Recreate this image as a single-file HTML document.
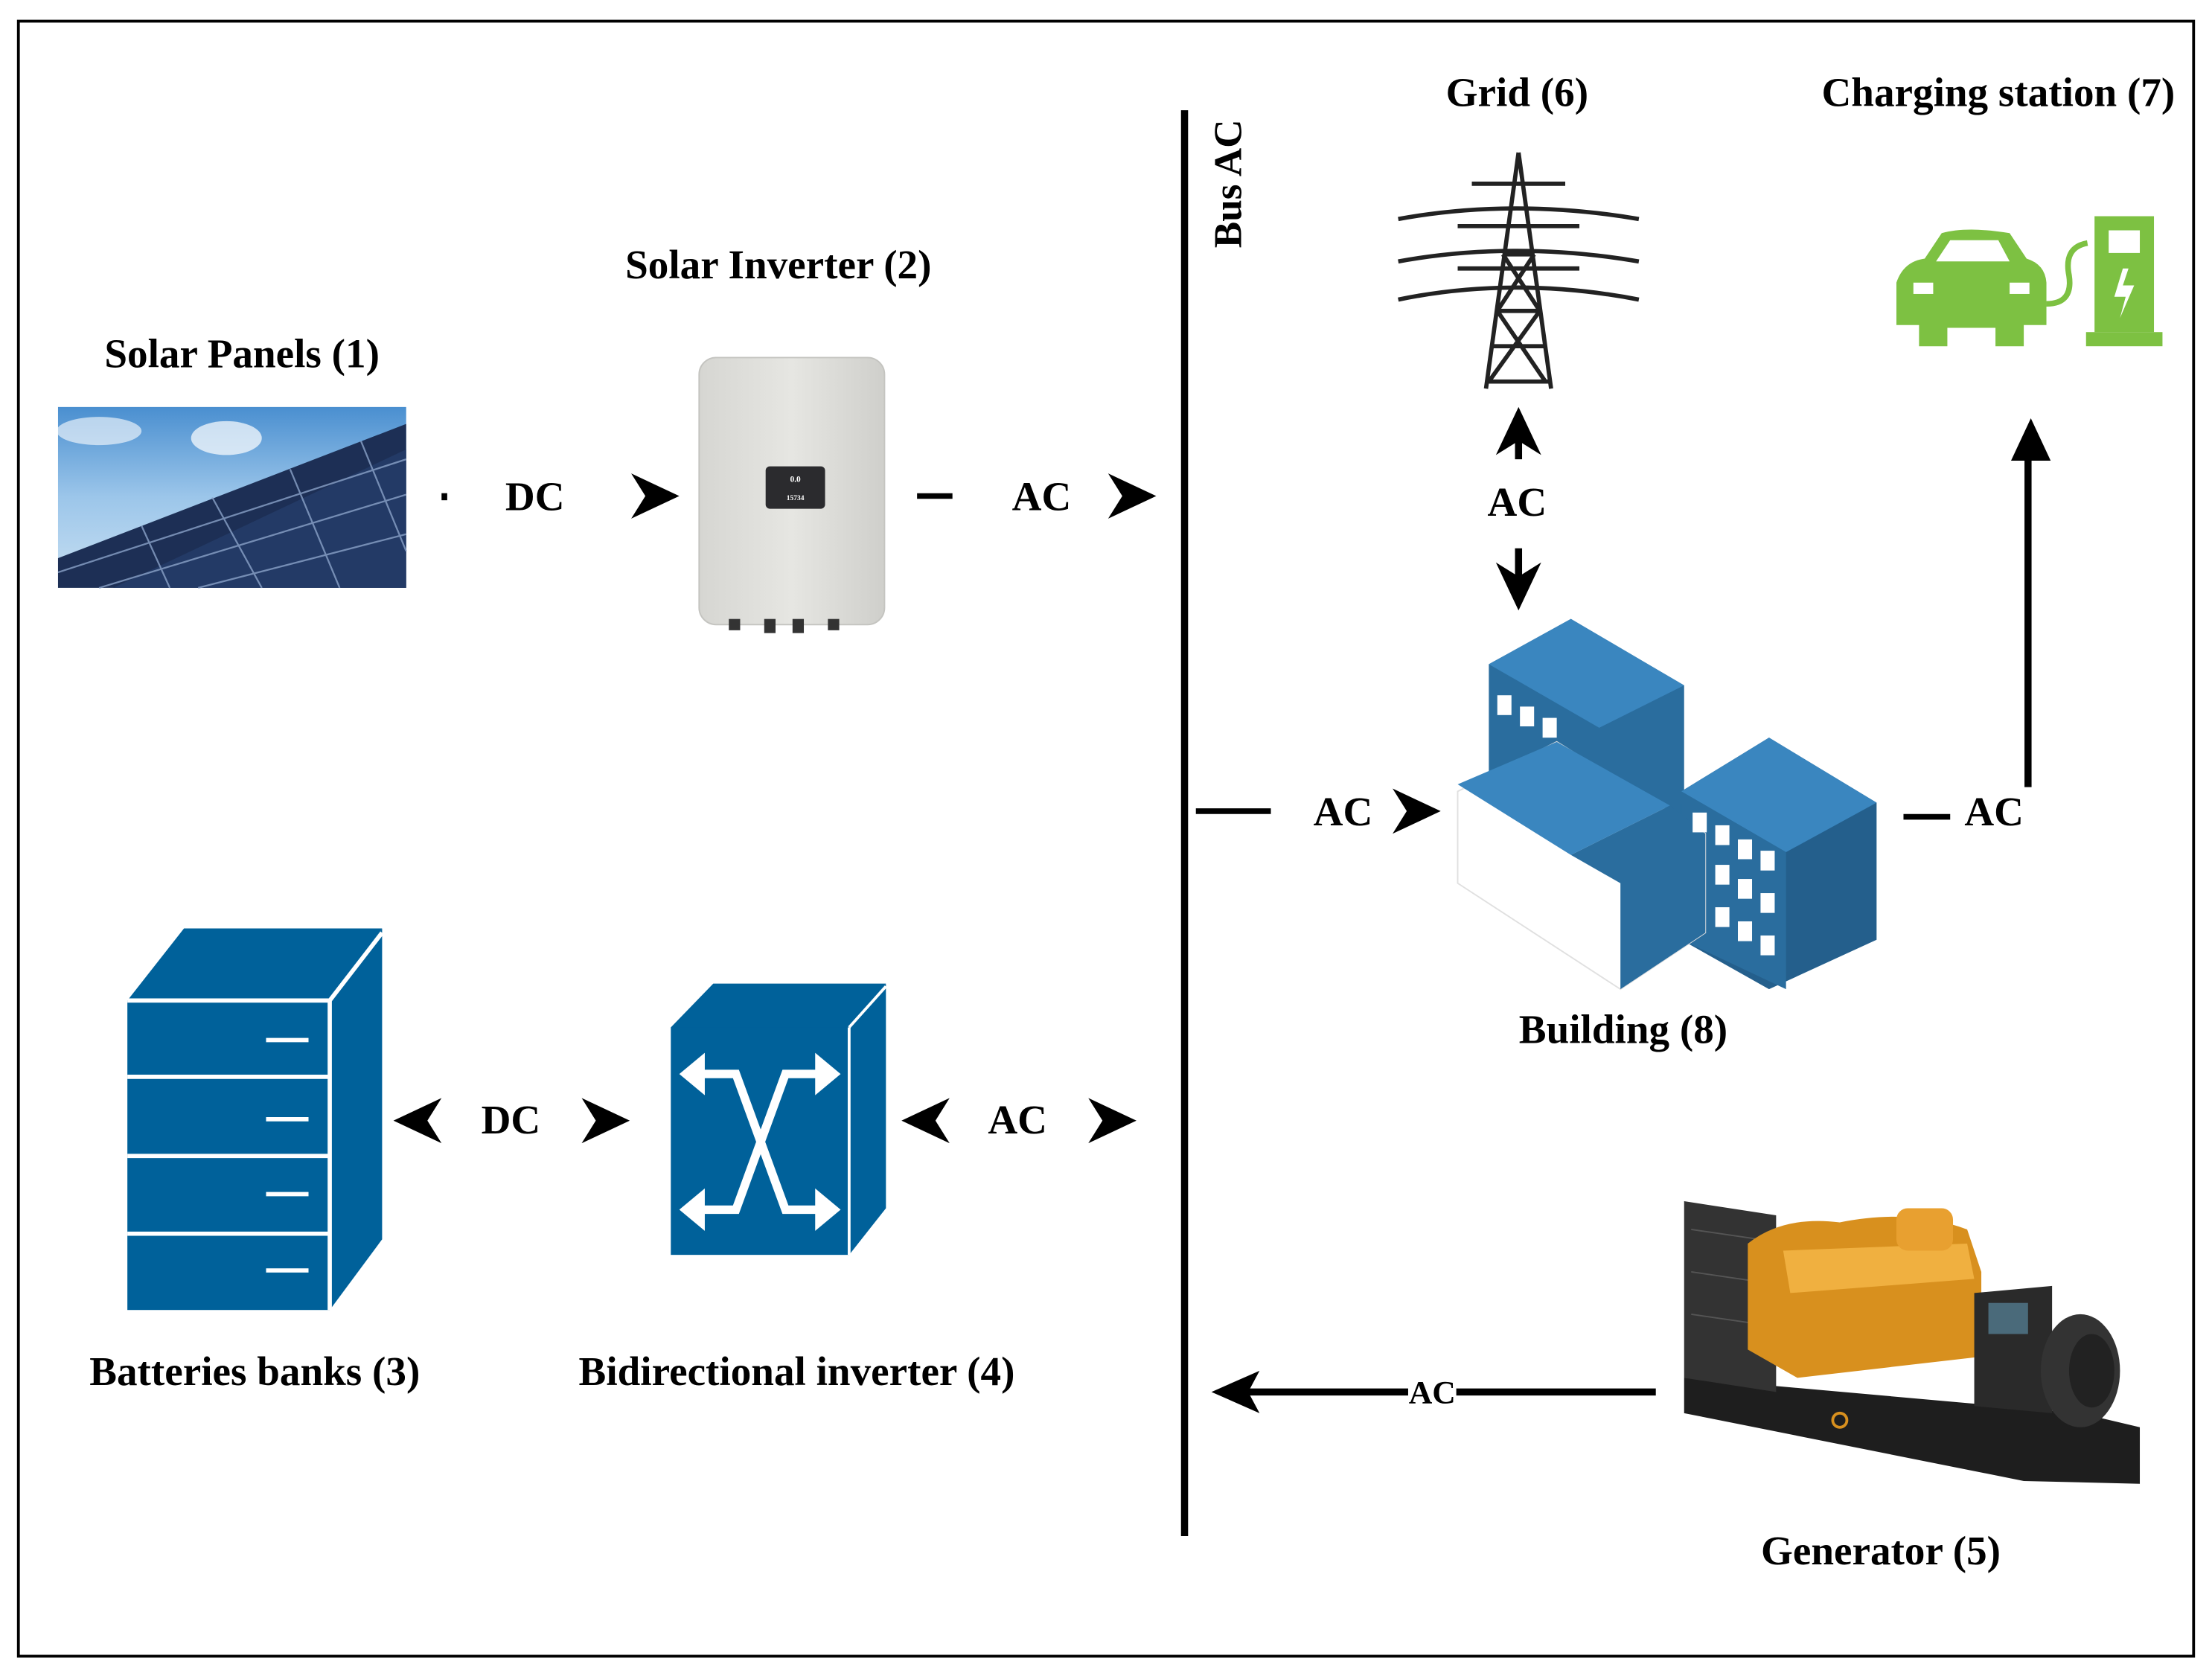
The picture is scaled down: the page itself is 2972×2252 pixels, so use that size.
<!DOCTYPE html>
<html><head><meta charset="utf-8"><style>
html,body{margin:0;padding:0;background:#fff;}
svg{display:block;}
text{font-family:"Liberation Serif",serif;font-weight:bold;fill:#000;}
</style></head><body>
<svg width="2972" height="2252" viewBox="0 0 1563 1186" preserveAspectRatio="none" xmlns="http://www.w3.org/2000/svg">
<defs>
<linearGradient id="sky" x1="0" y1="0" x2="0" y2="1"><stop offset="0" stop-color="#4a8fd0"/><stop offset="0.5" stop-color="#9cc6ea"/><stop offset="1" stop-color="#c9e0f2"/></linearGradient>
<linearGradient id="inv" x1="0" y1="0" x2="1" y2="0"><stop offset="0" stop-color="#d6d6d2"/><stop offset="0.5" stop-color="#e6e6e2"/><stop offset="1" stop-color="#cfcfcb"/></linearGradient>
<path id="chev" d="M-34,-16 L0,0 L-34,16 L-24,0 Z"/>
</defs>
<rect x="13" y="15" width="1537" height="1157" fill="none" stroke="#000" stroke-width="2"/>
<line x1="837" y1="78" x2="837" y2="1087" stroke="#000" stroke-width="5"/>
<text transform="translate(877,130) rotate(-90)" font-size="28" text-anchor="middle">Bus AC</text>
<g font-size="29">
<text x="171" y="260" text-anchor="middle">Solar Panels (1)</text>
<text x="550" y="197" text-anchor="middle">Solar Inverter (2)</text>
<text x="1072" y="75" text-anchor="middle">Grid (6)</text>
<text x="1412" y="75" text-anchor="middle">Charging station (7)</text>
<text x="1147" y="738" text-anchor="middle">Building (8)</text>
<text x="180" y="980" text-anchor="middle">Batteries banks (3)</text>
<text x="563" y="980" text-anchor="middle">Bidirectional inverter (4)</text>
<text x="1329" y="1107" text-anchor="middle">Generator (5)</text>
</g>
<rect x="41" y="288" width="246" height="128" fill="url(#sky)"/>
<polygon points="41,395 287,300 287,416 41,416" fill="#1d2f55"/>
<polygon points="80,416 287,318 287,416" fill="#233a66"/>
<g stroke="#8aa2c8" stroke-width="1.2" opacity="0.8">
<line x1="41" y1="405" x2="287" y2="325"/><line x1="70" y1="416" x2="287" y2="350"/><line x1="140" y1="416" x2="287" y2="378"/>
<line x1="100" y1="372" x2="120" y2="416"/><line x1="150" y1="352" x2="185" y2="416"/><line x1="205" y1="332" x2="240" y2="416"/><line x1="255" y1="312" x2="287" y2="390"/>
</g>
<ellipse cx="160" cy="310" rx="25" ry="12" fill="#fff" opacity="0.7"/>
<ellipse cx="70" cy="305" rx="30" ry="10" fill="#fff" opacity="0.6"/>
<rect x="494" y="253" width="131" height="189" rx="12" fill="url(#inv)" stroke="#c4c4c0"/>
<rect x="541" y="330" width="42" height="30" rx="3" fill="#2b2b2e"/>
<text x="562" y="341" font-size="6" style="fill:#fff" text-anchor="middle">0.0</text>
<text x="562" y="354" font-size="5" style="fill:#fff" text-anchor="middle">15734</text>
<g fill="#333"><rect x="515" y="438" width="8" height="8"/><rect x="540" y="438" width="8" height="10"/><rect x="560" y="438" width="8" height="10"/><rect x="585" y="438" width="8" height="8"/></g>
<rect x="312" y="349" width="4" height="5" fill="#000"/>
<text x="378" y="361" font-size="29" text-anchor="middle">DC</text>
<use href="#chev" x="480" y="351"/>
<line x1="648" y1="351" x2="673" y2="351" stroke="#000" stroke-width="4"/>
<text x="736" y="361" font-size="29" text-anchor="middle">AC</text>
<use href="#chev" x="817" y="351"/>
<g stroke="#222" stroke-width="3" fill="none">
<path d="M1073,108 L1050,275 M1073,108 L1096,275 M1058,220 L1088,220 M1055,245 L1092,245 M1052,270 L1094,270 M1058,220 L1092,270 M1088,220 L1052,270 M1062,180 L1084,180 M1062,180 L1088,220 M1084,180 L1058,220"/>
<path d="M988,155 Q1070,140 1158,155 M988,185 Q1070,170 1158,185 M988,212 Q1070,195 1158,212"/>
<path d="M1040,130 L1106,130 M1030,160 L1116,160 M1030,190 L1116,190"/>
</g>
<g fill="#7dc142">
<path d="M1340,230 L1340,200 Q1345,185 1360,183 L1372,165 Q1390,160 1420,165 L1432,183 Q1445,187 1446,200 L1446,230 L1430,230 L1430,245 L1410,245 L1410,232 L1376,232 L1376,245 L1356,245 L1356,230 Z"/>
<rect x="1480" y="153" width="42" height="82"/><rect x="1474" y="235" width="54" height="10"/>
</g>
<g fill="#fff"><rect x="1490" y="163" width="22" height="16"/><path d="M1378,170 L1412,170 L1420,185 L1368,185 Z"/><rect x="1352" y="200" width="14" height="8"/><rect x="1420" y="200" width="14" height="8"/></g>
<path d="M1500,190 L1494,210 L1502,210 L1498,225 L1508,202 L1500,202 L1504,190 Z" fill="#fff"/>
<path d="M1446,215 Q1465,215 1462,195 Q1458,175 1475,172" stroke="#7dc142" stroke-width="4" fill="none"/>
<line x1="1073" y1="300" x2="1073" y2="325" stroke="#000" stroke-width="5"/>
<use href="#chev" transform="translate(1073,288) rotate(-90)"/>
<text x="1072" y="365" font-size="29" text-anchor="middle">AC</text>
<line x1="1073" y1="388" x2="1073" y2="410" stroke="#000" stroke-width="5"/>
<use href="#chev" transform="translate(1073,432) rotate(90)"/>
<g>
<polygon points="1052,470 1110,438 1190,485 1190,590 1130,620 1052,575" fill="#2a6d9e"/>
<polygon points="1052,470 1110,438 1190,485 1130,515" fill="#3a86bf"/>
<polygon points="1188,560 1250,522 1326,568 1326,665 1250,700 1188,665" fill="#245f8c"/>
<polygon points="1188,560 1250,522 1326,568 1262,603" fill="#3a86bf"/>
<polygon points="1188,560 1262,603 1262,700 1188,665" fill="#2a6d9e"/>
<polygon points="1030,560 1100,525 1205,590 1205,660 1145,700 1030,625" fill="#fff" stroke="#e0e0e0"/>
<polygon points="1030,555 1100,525 1180,570 1110,605" fill="#3a86bf"/>
<polygon points="1110,605 1180,570 1205,590 1205,660 1145,700 1145,625" fill="#2a6d9e"/>
<g fill="#fff">
<rect x="1058" y="492" width="10" height="14"/><rect x="1074" y="500" width="10" height="14"/><rect x="1090" y="508" width="10" height="14"/>
<rect x="1196" y="575" width="10" height="14"/><rect x="1212" y="584" width="10" height="14"/><rect x="1228" y="594" width="10" height="14"/><rect x="1244" y="602" width="10" height="14"/>
<rect x="1212" y="612" width="10" height="14"/><rect x="1228" y="622" width="10" height="14"/><rect x="1244" y="632" width="10" height="14"/>
<rect x="1212" y="642" width="10" height="14"/><rect x="1228" y="652" width="10" height="14"/><rect x="1244" y="662" width="10" height="14"/>
</g>
</g>
<line x1="845" y1="574" x2="898" y2="574" stroke="#000" stroke-width="4"/>
<text x="949" y="584" font-size="29" text-anchor="middle">AC</text>
<use href="#chev" x="1018" y="574"/>
<line x1="1345" y1="578" x2="1378" y2="578" stroke="#000" stroke-width="4"/>
<text x="1409" y="584" font-size="29" text-anchor="middle">AC</text>
<line x1="1433" y1="557" x2="1433" y2="310" stroke="#000" stroke-width="5"/>
<polygon points="1435,296 1421,326 1449,326" fill="#000"/>
<polygon points="90,708 130,657 270,657 233,708" fill="#00619a"/>
<polygon points="233,708 270,657 270,877 233,927" fill="#00619a"/>
<line x1="233" y1="708" x2="270" y2="660" stroke="#fff" stroke-width="3"/>
<rect x="90" y="708" width="143" height="219" fill="#00619a"/>
<line x1="233" y1="708" x2="233" y2="927" stroke="#fff" stroke-width="3"/>
<g stroke="#fff" stroke-width="3"><line x1="90" y1="708" x2="233" y2="708"/><line x1="90" y1="762" x2="233" y2="762"/><line x1="90" y1="818" x2="233" y2="818"/><line x1="90" y1="873" x2="233" y2="873"/>
<line x1="188" y1="736" x2="218" y2="736"/><line x1="188" y1="792" x2="218" y2="792"/><line x1="188" y1="845" x2="218" y2="845"/><line x1="188" y1="899" x2="218" y2="899"/></g>
<polygon points="474,727 504,696 626,696 600,727" fill="#00619a"/>
<polygon points="600,727 626,696 626,855 600,888" fill="#00619a"/>
<line x1="600" y1="727" x2="626" y2="698" stroke="#fff" stroke-width="2"/>
<rect x="474" y="727" width="126" height="161" fill="#00619a"/>
<line x1="600" y1="727" x2="600" y2="888" stroke="#fff" stroke-width="2"/>
<g stroke="#fff" stroke-width="6" fill="none"><path d="M492,760 L520,760 L555,856 L582,856 M582,760 L555,760 L520,856 L492,856"/></g>
<g fill="#fff">
<polygon points="480,760 498,745 498,775"/><polygon points="594,760 576,745 576,775"/>
<polygon points="480,856 498,841 498,871"/><polygon points="594,856 576,841 576,871"/>
</g>
<use href="#chev" transform="translate(278,793) rotate(180)"/>
<text x="361" y="802" font-size="29" text-anchor="middle">DC</text>
<use href="#chev" x="445" y="793"/>
<use href="#chev" transform="translate(637,793) rotate(180)"/>
<text x="719" y="802" font-size="29" text-anchor="middle">AC</text>
<use href="#chev" x="803" y="793"/>
<polygon points="1190,975 1470,1000 1512,1010 1512,1050 1430,1048 1190,1000" fill="#1e1e1e"/>
<polygon points="1190,850 1255,860 1255,985 1190,975" fill="#333"/>
<g stroke="#555" stroke-width="1"><line x1="1195" y1="870" x2="1250" y2="878"/><line x1="1195" y1="900" x2="1250" y2="908"/><line x1="1195" y1="930" x2="1250" y2="938"/></g>
<path d="M1235,880 Q1260,860 1300,865 Q1350,855 1390,870 L1400,900 L1400,960 L1270,975 L1235,955 Z" fill="#d8901e"/>
<path d="M1260,885 L1390,880 L1395,905 L1265,915 Z" fill="#f0b040"/>
<rect x="1340" y="855" width="40" height="30" rx="8" fill="#e8a030"/>
<polygon points="1395,915 1450,910 1450,1000 1395,995" fill="#2a2a2a"/>
<rect x="1405" y="922" width="28" height="22" fill="#4a6a7a"/>
<ellipse cx="1470" cy="970" rx="28" ry="40" fill="#333"/>
<ellipse cx="1478" cy="970" rx="16" ry="26" fill="#222"/>
<circle cx="1300" cy="1005" r="5" fill="none" stroke="#d8901e" stroke-width="2"/>
<line x1="1170" y1="985" x2="870" y2="985" stroke="#000" stroke-width="5"/>
<polygon points="856,985 890,970 882,985 890,1000" fill="#000"/>
<rect x="995" y="973" width="34" height="24" fill="#fff"/>
<text x="1012" y="993" font-size="23" text-anchor="middle">AC</text>
</svg>
</body></html>
